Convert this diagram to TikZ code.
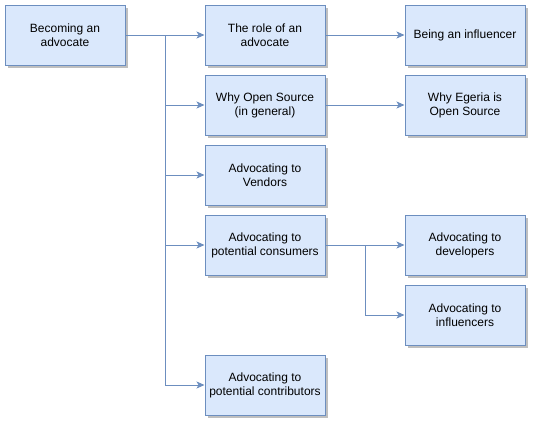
\documentclass[tikz,border=0pt]{standalone}
\usepackage{fontspec}
\setmainfont{Liberation Sans}
\usetikzlibrary{arrows.meta,shadows}
\definecolor{boxfill}{HTML}{DAE8FC}
\definecolor{boxline}{HTML}{6C8EBF}
\begin{document}
\begin{tikzpicture}[x=1pt,y=-1pt,
  box/.style={draw=boxline,fill=boxfill,line width=1pt,minimum width=120pt,minimum height=60pt,
    align=center,font=\fontsize{12}{14}\selectfont,inner sep=2pt,
    drop shadow={shadow xshift=2.5pt,shadow yshift=-2.5pt,opacity=0.25,fill=black}},
  edge/.style={draw=boxline,line width=1pt,-{Stealth[length=8pt,width=7pt,inset=2pt]}}]
\useasboundingbox (0,0) rectangle (542,432);
\node[box] (b) at (65,35) {Becoming an\\advocate};
\node[box] (role) at (265,35) {The role of an\\advocate};
\node[box] (infl) at (465,35) {Being an influencer};
\node[box] (why) at (265,105) {Why Open Source\\(in general)};
\node[box] (egeria) at (465,105) {Why Egeria is\\Open Source};
\node[box] (vend) at (265,175) {Advocating to\\Vendors};
\node[box] (cons) at (265,245) {Advocating to\\potential consumers};
\node[box] (dev) at (465,245) {Advocating to\\developers};
\node[box] (infs) at (465,315) {Advocating to\\influencers};
\node[box] (contr) at (265,385) {Advocating to\\potential contributors};
\coordinate (j1) at (165.5,35);
\coordinate (j2) at (365.5,245);
\draw[edge] (b.east) -- (role.west);
\draw[edge] (b.east) -- (j1) |- (why.west);
\draw[edge] (b.east) -- (j1) |- (vend.west);
\draw[edge] (b.east) -- (j1) |- (cons.west);
\draw[edge] (b.east) -- (j1) |- (contr.west);
\draw[edge] (role.east) -- (infl.west);
\draw[edge] (why.east) -- (egeria.west);
\draw[edge] (cons.east) -- (dev.west);
\draw[edge] (cons.east) -- (j2) |- (infs.west);
\end{tikzpicture}
\end{document}
